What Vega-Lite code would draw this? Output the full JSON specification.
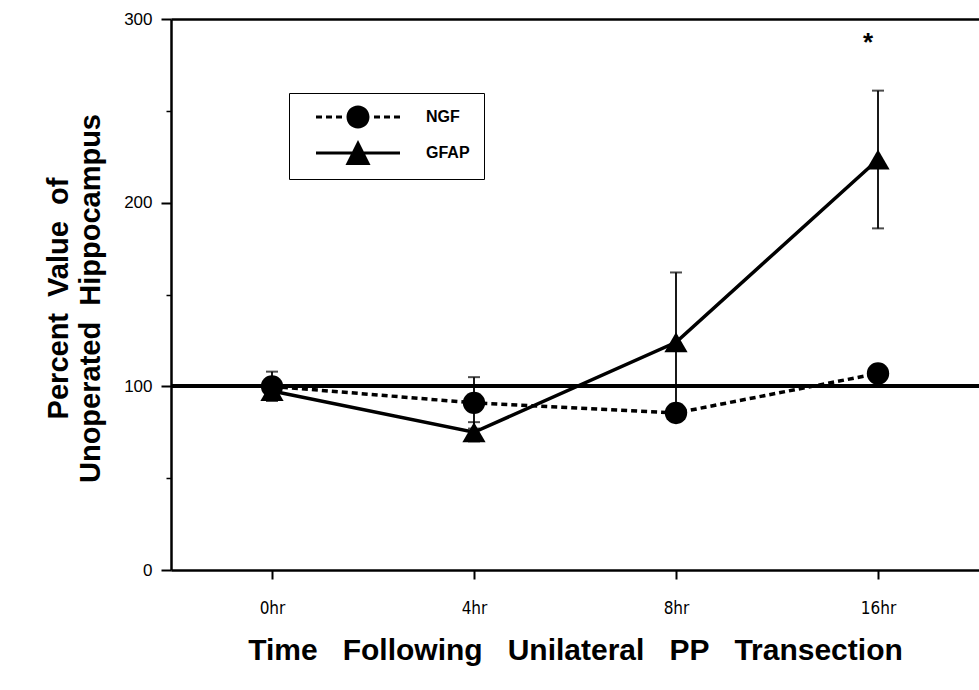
{
  "$schema": "https://vega.github.io/schema/vega-lite/v6.json",
  "width": 808,
  "height": 551,
  "autosize": {"type": "none"},
  "padding": {"left": 171, "top": 19, "right": 0, "bottom": 120},
  "background": "white",
  "config": {
    "view": {"stroke": null},
    "font": "Liberation Sans",
    "axis": {"grid": false, "domainColor": "black", "domainWidth": 2.5, "tickColor": "black", "tickWidth": 2, "labelColor": "black", "titleColor": "black"}
  },
  "datasets": {
    "pts": [
      {"time": "0hr", "series": "NGF", "value": 100, "lo": 92, "hi": 108},
      {"time": "4hr", "series": "NGF", "value": 91, "lo": 77, "hi": 105},
      {"time": "8hr", "series": "NGF", "value": 85.5, "lo": 83, "hi": 88},
      {"time": "16hr", "series": "NGF", "value": 107, "lo": 104, "hi": 110},
      {"time": "0hr", "series": "GFAP", "value": 97.5, "lo": 93, "hi": 102},
      {"time": "4hr", "series": "GFAP", "value": 75, "lo": 70, "hi": 80.5},
      {"time": "8hr", "series": "GFAP", "value": 124, "lo": 86, "hi": 162},
      {"time": "16hr", "series": "GFAP", "value": 223.5, "lo": 186, "hi": 261}
    ],
    "star": [{"time": "16hr", "value": 287, "label": "*"}]
  },
  "resolve": {"axis": {"x": "independent", "y": "independent"}},
  "layer": [
    {
      "data": {"name": "pts"},
      "mark": {"type": "rule", "color": "black", "strokeWidth": 3.5},
      "encoding": {
        "y": {"datum": 100, "type": "quantitative", "scale": {"domain": [0, 300], "nice": false},
          "axis": {
            "orient": "left",
            "values": [0, 100, 200, 300], "title": ["Percent\u00a0\u00a0Value\u00a0\u00a0of", "Unoperated\u00a0\u00a0Hippocampus"],
            "titleFont": "Liberation Sans", "titleFontWeight": "bold", "titleFontSize": 29, "titleLineHeight": 32,
            "titleX": -113, "titleY": 279, "titleBaseline": "middle", "titleAngle": -90, "titleAlign": "center",
            "labelFont": "Liberation Sans", "labelFontSize": 17, "labelPadding": 9, "tickSize": 10
          }
        }
      }
    },
    {
      "data": {"values": [{"v": 50}, {"v": 150}, {"v": 250}]},
      "mark": {"type": "tick", "opacity": 0},
      "encoding": {
        "y": {"field": "v", "type": "quantitative",
          "axis": {"orient": "left", "values": [50, 150, 250], "labels": false, "domain": false, "tickSize": 5, "tickWidth": 1.5, "title": null}
        }
      }
    },
    {
      "data": {"name": "pts"},
      "mark": {"type": "tick", "opacity": 0},
      "encoding": {
        "x": {"field": "time", "type": "ordinal", "scale": {"type": "point", "domain": ["0hr", "4hr", "8hr", "16hr"], "padding": 0.5},
          "axis": {"orient": "top", "labels": false, "ticks": false, "title": null, "domain": true}},
        "y": {"field": "value", "type": "quantitative", "axis": null}
      }
    },
    {
      "data": {"name": "pts"},
      "mark": {"type": "rule", "color": "black", "strokeWidth": 1.8},
      "encoding": {
        "x": {"field": "time", "type": "ordinal", "axis": null},
        "y": {"field": "lo", "type": "quantitative", "axis": null},
        "y2": {"field": "hi"}
      }
    },
    {
      "data": {"name": "pts"},
      "mark": {"type": "tick", "color": "black", "thickness": 2, "size": 12, "orient": "horizontal"},
      "encoding": {
        "x": {"field": "time", "type": "ordinal", "axis": null},
        "y": {"field": "hi", "type": "quantitative", "axis": null}
      }
    },
    {
      "data": {"name": "pts"},
      "mark": {"type": "tick", "color": "black", "thickness": 2, "size": 12, "orient": "horizontal"},
      "encoding": {
        "x": {"field": "time", "type": "ordinal", "axis": null},
        "y": {"field": "lo", "type": "quantitative", "axis": null}
      }
    },
    {
      "data": {"name": "pts"},
      "transform": [{"filter": "datum.series === 'NGF'"}],
      "mark": {"type": "line", "color": "black", "strokeWidth": 3.5, "strokeDash": [6, 4]},
      "encoding": {
        "x": {"field": "time", "type": "ordinal", "sort": null,
          "axis": {
            "orient": "bottom",
            "title": "Time\u00a0\u00a0\u00a0Following\u00a0\u00a0\u00a0Unilateral\u00a0\u00a0\u00a0PP\u00a0\u00a0\u00a0Transection",
            "titleFont": "Liberation Sans", "titleFontWeight": "bold", "titleFontSize": 30,
            "titleY": 80, "titleBaseline": "middle",
            "labelAngle": 0, "labelFont": "'DejaVu Sans Condensed', 'Liberation Sans'", "labelFontSize": 17,
            "labelPadding": 21, "tickSize": 9, "domain": true
          }
        },
        "y": {"field": "value", "type": "quantitative", "axis": null}
      }
    },
    {
      "data": {"name": "pts"},
      "transform": [{"filter": "datum.series === 'GFAP'"}],
      "mark": {"type": "line", "color": "black", "strokeWidth": 3.5},
      "encoding": {
        "x": {"field": "time", "type": "ordinal", "sort": null, "axis": null},
        "y": {"field": "value", "type": "quantitative", "axis": null}
      }
    },
    {
      "data": {"name": "pts"},
      "transform": [{"filter": "datum.series === 'NGF'"}],
      "mark": {"type": "point", "filled": true, "color": "black", "opacity": 1, "size": 500, "shape": "circle"},
      "encoding": {
        "x": {"field": "time", "type": "ordinal", "axis": null},
        "y": {"field": "value", "type": "quantitative", "axis": null}
      }
    },
    {
      "data": {"name": "pts"},
      "transform": [{"filter": "datum.series === 'GFAP'"}],
      "mark": {"type": "point", "filled": true, "color": "black", "opacity": 1, "size": 540, "shape": "triangle-up"},
      "encoding": {
        "x": {"field": "time", "type": "ordinal", "axis": null},
        "y": {"field": "value", "type": "quantitative", "axis": null}
      }
    },
    {
      "data": {"name": "pts"},
      "transform": [{"filter": "datum.value < 0"}],
      "mark": {"type": "point", "filled": true, "color": "black", "opacity": 1, "size": 400},
      "encoding": {
        "x": {"field": "time", "type": "ordinal", "axis": null},
        "y": {"field": "value", "type": "quantitative", "axis": null},
        "shape": {"field": "series", "type": "nominal",
          "scale": {"domain": ["NGF", "GFAP"], "range": [
            "M-4.2,-0.15h0.6v0.3h-0.6zM-3.2,-0.15h0.6v0.3h-0.6zM-2.2,-0.15h0.6v0.3h-0.6zM1.6,-0.15h0.6v0.3h-0.6zM2.6,-0.15h0.6v0.3h-0.6zM3.6,-0.15h0.6v0.3h-0.6zM-1.15,0A1.15,1.15 0 1,1 1.15,0A1.15,1.15 0 1,1 -1.15,0Z",
            "M-4.2,-0.15H4.2V0.15H-4.2ZM-1.25,1.2L0,-1.3L1.25,1.2Z"
          ]},
          "legend": {
            "title": null, "orient": "none", "legendX": 118, "legendY": 74,
            "strokeColor": "black", "padding": 14, "symbolSize": 400, "symbolOffset": 45,
            "labelOffset": 58, "labelFont": "Liberation Sans", "labelFontWeight": "bold", "labelFontSize": 16, "labelColor": "black",
            "rowPadding": 11, "symbolFillColor": "black", "symbolStrokeColor": "black", "symbolStrokeWidth": 0,
            "symbolOpacity": 1,
            "encode": {
              "legend": {"update": {"strokeWidth": {"value": 2.5}}}
            }
          }
        }
      }
    },
    {
      "data": {"name": "star"},
      "mark": {"type": "text", "color": "black", "fontSize": 26, "fontWeight": "bold", "dx": -10, "baseline": "middle"},
      "encoding": {
        "x": {"field": "time", "type": "ordinal", "axis": null},
        "y": {"field": "value", "type": "quantitative", "axis": null},
        "text": {"field": "label"}
      }
    }
  ]
}
